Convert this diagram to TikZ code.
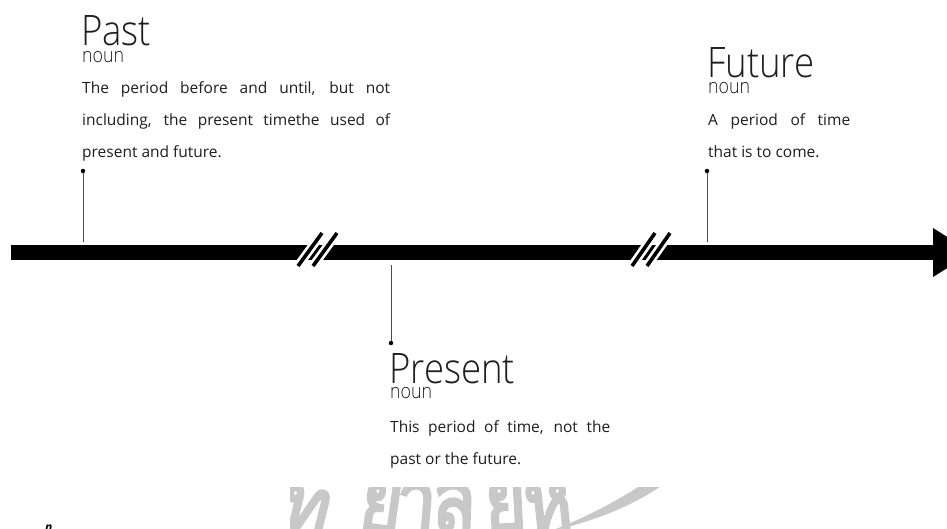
\documentclass[tikz,border=0pt]{standalone}
\usepackage{fontspec}
\setmainfont{Open Sans}
\newfontfamily\titlefont{Open Sans Light}
\newfontfamily\thaifont[Script=Thai,FakeBold=3.5]{Loma}
\definecolor{ink}{RGB}{30,30,30}
\definecolor{wmark}{RGB}{200,200,200}
\tikzset{
  titletext/.style={anchor=base west, inner sep=0pt, text=ink, font=\titlefont\fontsize{42}{42}\selectfont},
  nountext/.style={anchor=base west, inner sep=0pt, text=ink, font=\titlefont\fontsize{20.5}{20.5}\selectfont},
  bodytext/.style={anchor=base west, inner sep=0pt, text=ink},
  pinline/.style={draw=black!70, line width=0.9pt},
  pindot/.style={circle, fill=black, inner sep=0pt, minimum size=4.5pt},
  breakhalo/.style={draw=white, line width=9pt},
  breakline/.style={draw=black, line width=3.6pt},
  wmletter/.style={anchor=base, inner sep=0pt, text=wmark, font=\thaifont\fontsize{88}{88}\selectfont}
}
\newcommand{\bodybox}[2]{\parbox[t]{#1}{\fontsize{15.5}{32}\selectfont\sloppy #2}}
\newcommand{\wm}[1]{\scalebox{0.82}[1]{#1}}
\begin{document}
\begin{tikzpicture}[x=1pt,y=-1pt]
\useasboundingbox (0,0) rectangle (947,528);
\clip (0,0) rectangle (947,528);
\fill[white] (0,0) rectangle (947,528);

% watermark (partial seal)
\begin{scope}
\clip (290,487) rectangle (760,528);
\node[wmletter, rotate=-14] (wm0) at (300,536) {\wm{ท}};
\node[wmletter, rotate=-8] (wm1) at (378,532) {\wm{ย}};
\node[wmletter, rotate=-5] (wm2) at (414,531) {\wm{า}};
\node[wmletter, rotate=-2] (wm3) at (453,531) {\wm{ลั}};
\node[wmletter, rotate=3] (wm4) at (507,531) {\wm{ย}};
\node[wmletter, rotate=6] (wm5) at (551,532) {\wm{ห}};
\fill[wmark] (643,484) -- (664,484) .. controls (630,508) and (590,522) .. (548,532)
  .. controls (585,518) and (615,502) .. cycle;
\end{scope}
\node[anchor=base west, inner sep=0pt, font=\itshape\bfseries\fontsize{12}{12}\selectfont] (nmark) at (45,531) {n};

% main bar and arrow head
\fill[black] (11,245) rectangle (934,260);
\fill[black] (933,228) -- (972,252.5) -- (933,277) -- cycle;

% break marks
\foreach \a/\b in {298/322, 313/337, 632/655, 647/670}{
  \draw[breakhalo] (\a,266) -- (\b,233);
  \draw[breakline] (\a,266) -- (\b,233);
}

% pins
\node[pindot] (pastdot) at (83,171) {};
\coordinate (pastbar) at (83,242);
\draw[pinline] (pastdot) -- (pastbar);
\node[pindot] (futdot) at (707,171) {};
\coordinate (futbar) at (707,242);
\draw[pinline] (futdot) -- (futbar);
\node[pindot] (presdot) at (391,343) {};
\coordinate (presbar) at (391,265);
\draw[pinline] (presbar) -- (presdot);

% Past
\node[titletext] (pasttitle) at (81,45) {\scalebox{0.87}[1]{Past}};
\node[nountext] (pastnoun) at (82,62) {\scalebox{0.87}[1]{noun}};
\node[bodytext] (pastbody) at (82,93) {\bodybox{308pt}{The period before and until, but not\linebreak including, the present timethe used of\linebreak present and future.}};

% Future
\node[titletext] (futtitle) at (707,77) {\scalebox{0.87}[1]{Future}};
\node[nountext] (futnoun) at (708,93) {\scalebox{0.87}[1]{noun}};
\node[bodytext] (futbody) at (708,125) {\bodybox{142pt}{A period of time\linebreak that is to come.}};

% Present
\node[titletext] (prestitle) at (389,383) {\scalebox{0.87}[1]{Present}};
\node[nountext] (presnoun) at (390,398) {\scalebox{0.87}[1]{noun}};
\node[bodytext] (presbody) at (390,432) {\bodybox{220pt}{This period of time, not the\linebreak past or the future.}};
\end{tikzpicture}
\end{document}
